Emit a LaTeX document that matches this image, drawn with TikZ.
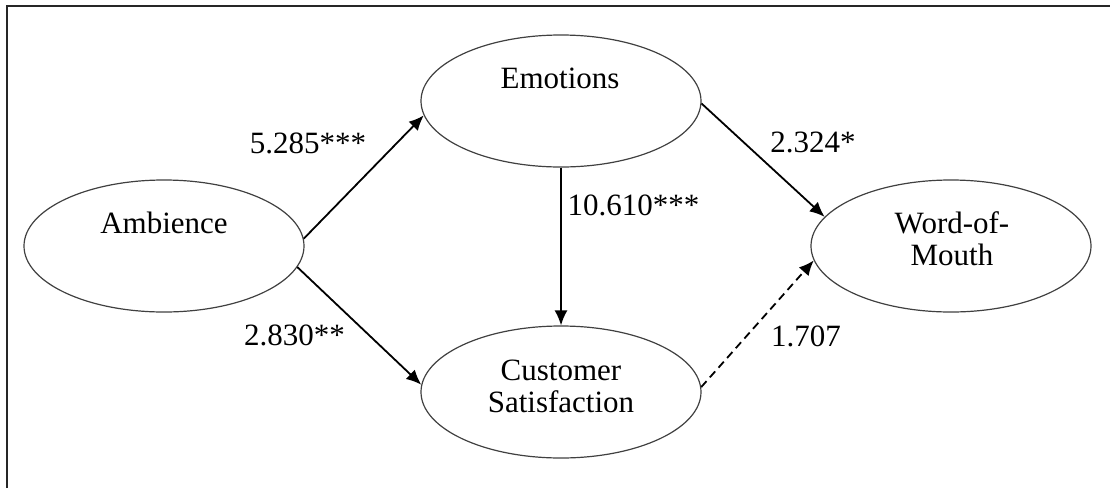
\documentclass[tikz,border=0pt]{standalone}
\usepackage{fontspec}
\setmainfont{Liberation Serif}
\usetikzlibrary{shapes.geometric, arrows.meta, positioning}

\begin{document}
\begin{tikzpicture}[
    x=0.5pt, y=-0.5pt,
    construct/.style={ellipse, draw=black!75, line width=0.6pt, minimum width=140pt, minimum height=66pt, inner sep=0pt},
    contitle/.style={align=center, font=\fontsize{15.5}{16}\selectfont, inner sep=0pt},
    weight/.style={font=\fontsize{15.5}{16}\selectfont, inner sep=0pt},
    arrowline/.style={draw, line width=0.9pt, -{Latex[length=7.5pt, width=6.5pt]}}
]
\useasboundingbox (0,0) rectangle (1110,488);

% frame
\coordinate (frameleft) at (7,488);
\coordinate (framecorner) at (7,5.5);
\coordinate (frametop) at (1110,5.5);
\draw [line width=1pt, black!85] (frameleft) -- (framecorner) -- (frametop);

% constructs
\node [construct] (ambience) at (164,246) {};
\node [construct] (emotions) at (561,101) {};
\node [construct] (satisfaction) at (561,392) {};
\node [construct] (wom) at (951,246) {};

\node [contitle] (ambiencetext) at (164,223) {Ambience};
\node [contitle] (emotionstext) at (560,78) {Emotions};
\node [contitle] (satisfactiontext) at (561,386) {Customer\\Satisfaction};
\node [contitle] (womtext) at (952,239) {Word-of-\\Mouth};

% paths
\path [arrowline] (ambience.3) -- (emotions.186);
\path [arrowline] (ambience.-9.5) -- (satisfaction.177);
\path [arrowline] (emotions.south) -- (satisfaction.north);
\path [arrowline] (emotions.-1) -- (wom.167.5);
\path [arrowline, dash pattern=on 4pt off 2.5pt] (satisfaction.2.5) -- (wom.186.8);

% coefficients
\node [weight] (w1) at (308,143) {5.285***};
\node [weight] (w2) at (294.5,335) {2.830**};
\node [weight] (w3) at (633.5,205) {10.610***};
\node [weight] (w4) at (813,142) {2.324*};
\node [weight] (w5) at (806,336) {1.707};

\end{tikzpicture}
\end{document}
